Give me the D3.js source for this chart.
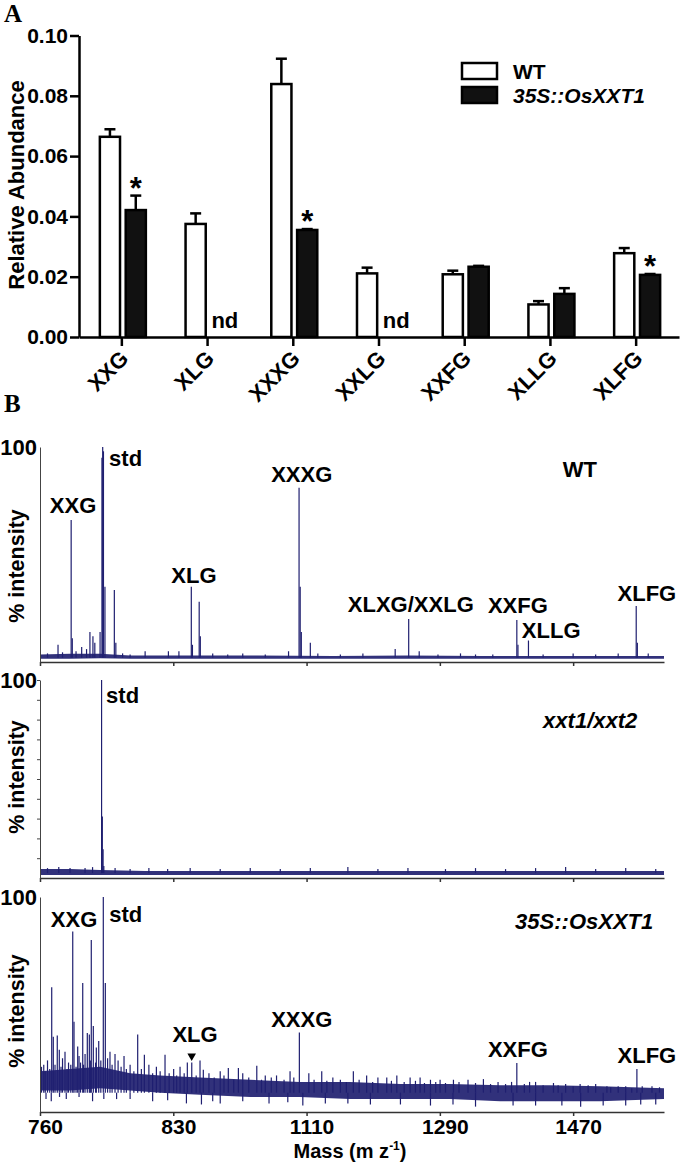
<!DOCTYPE html>
<html>
<head>
<meta charset="utf-8">
<script src="https://cdn.jsdelivr.net/npm/d3@7"></script>
<style>
  body { margin: 0; background: #fff; }
  svg { display: block; font-family: Arial, "Liberation Sans", Helvetica, sans-serif; }
</style>
</head>
<body>
<svg id="fig" width="680" height="1162"></svg>
<script>
// ---------- panel A: relative abundance of oligosaccharides
const categories = ["XXG", "XLG", "XXXG", "XXLG", "XXFG", "XLLG", "XLFG"];
const groups = ["WT", "35S::OsXXT1"];
const wtMean = [0.0664, 0.0375, 0.0839, 0.0211, 0.0208, 0.0108, 0.0278];
const wtErr = [0.0025, 0.0035, 0.0084, 0.0019, 0.0012, 0.0011, 0.0017];
const oeMean = [0.0421, null, 0.0355, null, 0.0233, 0.0143, 0.0206];
const oeErr = [0.0048, null, 0.0003, null, 0.0003, 0.0019, 0.0003];
const significant = [true, false, true, false, false, false, true];
const abundanceTicks = [0, 0.02, 0.04, 0.06, 0.08, 0.10];

// ---------- panel B: MALDI-TOF spectra  [mass, % intensity]
const massTicks = [760, 937.5, 1115, 1292.5, 1470];
const massTickLabels = ["760", "830", "1110", "1290", "1470"];

const wtBand = [[760, 1.5, 3.5], [800, 1.5, 3.8], [840, 1.8, 3.8], [880, 1.5, 3], [950, 1.5, 3],
  [1050, 1.5, 3], [1150, 1.5, 2.8], [1250, 1.5, 3], [1350, 1.5, 2.8], [1450, 1.5, 2.8], [1591, 1.5, 2.8]];
const wtPeaks = [[770, 4], [784, 8], [790, 4.5], [801.5, 66], [803, 11], [808, 5], [815.5, 7], [822, 6],
  [826.5, 14], [830.5, 12], [833, 9], [840, 14], [842.5, 95], [843.5, 100], [844.5, 98], [846.5, 35],
  [859, 33.5], [861, 9], [870, 4], [880, 3.5], [900, 5], [931, 5], [945, 5], [961.5, 35], [963, 8],
  [972, 28], [973.5, 12], [990, 4], [1010, 3.5], [1030, 4], [1060, 3.5], [1091, 5], [1105, 81],
  [1106.5, 35], [1108, 14], [1120, 9], [1130, 4], [1160, 3.5], [1190, 4], [1233, 6], [1251, 20],
  [1265, 5], [1290, 3.5], [1320, 4], [1340, 3.5], [1363, 3.5], [1395, 19.5], [1396.5, 8], [1410.5, 10],
  [1430, 3.5], [1470, 4], [1500, 3.5], [1530, 4], [1554, 26], [1555.5, 9], [1570, 4]];
const wtLabels = [["XXG", 804, 69.2, "middle"], ["std", 852, 91.2, "start"], ["XXXG", 1108.6, 83.9, "middle"],
  ["XLG", 965, 36.7, "middle"], ["XLXG/XXLG", 1253.8, 23.4, "middle"], ["XXFG", 1396.4, 22.7, "middle"],
  ["XLLG", 1401.7, 11.3, "start"], ["XLFG", 1568.2, 28.4, "middle"], ["WT", 1456, 86.2, "start"]];

const koBand = [[760, 1.5, 4.5], [800, 1.5, 4.5], [840, 1.5, 4], [900, 1.5, 3.5], [1000, 1.5, 3.5],
  [1100, 1.5, 3.5], [1200, 1.5, 3.5], [1300, 1.5, 3.5], [1400, 1.5, 3.5], [1500, 1.5, 3.5], [1591, 1.5, 3.5]];
const koPeaks = [[770, 5], [785, 5.5], [800, 5], [820, 5], [830, 5.5], [842, 100], [843, 31], [844, 14.5],
  [845, 6], [860, 5], [880, 4.5], [905, 5], [930, 4.5], [960, 5], [1000, 4.5], [1040, 5], [1080, 4.5],
  [1120, 5], [1170, 5.5], [1210, 4.5], [1250, 5], [1300, 4.5], [1340, 5], [1380, 4.5], [1420, 5],
  [1460, 5.5], [1500, 4.5], [1540, 5], [1580, 4.5]];
const koLabels = [["std", 848, 88.2, "start"], ["xxt1/xxt2", 1430, 75.8, "start", true]];

const oeBand = [[760, 10, 19], [800, 10, 20], [840, 11, 21], [880, 10, 18], [920, 9, 17], [973, 8, 16],
  [1040, 7, 15], [1106, 7, 14], [1173, 6, 14], [1240, 6, 13], [1306, 6, 13], [1373, 5, 12.5],
  [1439, 5, 12.5], [1506, 5, 12], [1591, 6, 11]];
const oePeaks = [[765, 22], [770, 24], [775.6, 58], [777.7, 35], [783, 35.6], [785.7, 29], [790, 25],
  [793.3, 28], [798, 23], [803.6, 84], [805.3, 42], [810.2, 30.5], [812, 26], [816.9, 60], [820, 27],
  [823, 36.7], [825.7, 36], [828.3, 80], [831, 40], [835, 30], [838.2, 33], [844.3, 100], [847, 60],
  [850, 25], [853.2, 28], [859.9, 27], [864, 24], [871.9, 26], [880, 22], [890.1, 36], [899, 26.6],
  [905, 22], [915, 21], [926.5, 26.6], [938, 20], [946.5, 21], [956.2, 23], [962.1, 23], [973.1, 24],
  [977.5, 19.7], [985, 18], [1000, 19], [1010.8, 20.5], [1024.2, 20.5], [1030, 18], [1048.7, 21.5],
  [1060, 17], [1075, 17], [1093, 19], [1105.4, 37], [1118, 18], [1135.2, 19], [1150, 16], [1177.3, 19],
  [1195, 17], [1210, 16], [1221.8, 16], [1235.2, 17], [1252.9, 16], [1266.2, 16], [1280, 15],
  [1292.8, 15], [1310.6, 15], [1330, 15], [1350.5, 15.3], [1370, 14], [1395, 22.8], [1420, 14],
  [1443.8, 13.5], [1460, 13], [1479.3, 13], [1500, 13], [1530, 12], [1554.9, 20], [1575, 12],
  [762, 21], [767, 19], [773, 20], [780, 22], [788, 21], [796, 20], [801, 22], [808, 21], [814, 23],
  [818, 22], [827, 24], [834, 23], [841, 24], [856, 22], [868, 21], [875, 20], [885, 19], [895, 20],
  [910, 18], [920, 19], [932, 18], [942, 17], [952, 18], [968, 17], [992, 16], [1005, 17], [1018, 15],
  [1038, 16], [1055, 15], [1068, 16], [1085, 15], [1098, 16], [1125, 15], [1142, 14.5], [1160, 15],
  [1168, 14], [1185, 15], [1203, 14], [1228, 14.5], [1245, 14], [1260, 14.5], [1272, 13.5], [1287, 14],
  [1300, 13.5], [1318, 14], [1340, 13.5], [1360, 13], [1380, 13], [1388, 14], [1405, 13], [1412, 14],
  [1430, 12.5], [1450, 12.5], [1470, 12], [1490, 12.5], [1515, 12], [1520, 11.5], [1540, 12],
  [1548, 11], [1562, 12], [1585, 11.5],
  [775, 5], [795, 6], [830, 5], [862, 6], [910, 5], [955, 4], [975, 3.5], [1000, 4], [1065, 4],
  [1110, 3], [1200, 3.5], [1280, 3], [1340, 2.5], [1420, 3], [1480, 2.5], [1540, 3], [1580, 3.5],
  [768, 6], [786, 7], [812, 7], [845, 6], [880, 6], [930, 5.5], [990, 5], [1030, 5], [1090, 4.5],
  [1140, 4], [1170, 4], [1240, 3.5], [1310, 3.5], [1390, 3], [1455, 3], [1510, 3], [1560, 3.5]];
const oeLabels = [["XXG", 805.3, 85.9, "middle"], ["std", 852.3, 88.5, "start"], ["XLG", 966.5, 32.7, "middle"],
  ["XXXG", 1108.6, 39.7, "middle"], ["XXFG", 1396.4, 25.4, "middle"], ["XLFG", 1568.2, 22.7, "middle"],
  ["35S::OsXXT1", 1392.7, 85.1, "start", true]];
const oeArrow = [[962, 26]];

const svg = d3.select("#fig");
const ink = "#000";
const navy = "#1f1f70";

// ================= Panel A =================
svg.append("text").attr("x", 4).attr("y", 22)
  .style("font-family", "'Liberation Serif', 'Times New Roman', serif")
  .style("font-weight", "bold").style("font-size", "25px").text("A");

const xA = d3.scaleBand().domain(categories).range([79, 679]).padding(0);
const xSub = d3.scaleBand().domain(groups).range([-22, 24]).paddingInner(0.22);
const yA = d3.scaleLinear().domain([0, 0.10]).range([337, 35.5]);

const rows = categories.map((c, i) => ({
  cat: c,
  values: [
    { g: groups[0], mean: wtMean[i], err: wtErr[i], star: false },
    { g: groups[1], mean: oeMean[i], err: oeErr[i], star: significant[i] }
  ]
}));

const groupG = svg.selectAll(".cat").data(rows).join("g")
  .attr("class", "cat")
  .attr("transform", (d) => `translate(${xA(d.cat) + xA.bandwidth() / 2},0)`);

const bar = groupG.selectAll(".bar").data((d) => d.values).join("g").attr("class", "bar");

bar.filter((d) => d.mean !== null).append("line")
  .attr("x1", (d) => xSub(d.g) + xSub.bandwidth() / 2)
  .attr("x2", (d) => xSub(d.g) + xSub.bandwidth() / 2)
  .attr("y1", (d) => yA(d.mean)).attr("y2", (d) => yA(d.mean + d.err))
  .attr("stroke", ink).attr("stroke-width", 2.5);

bar.filter((d) => d.mean !== null).append("line")
  .attr("x1", (d) => xSub(d.g) + xSub.bandwidth() / 2 - 5.5)
  .attr("x2", (d) => xSub(d.g) + xSub.bandwidth() / 2 + 5.5)
  .attr("y1", (d) => yA(d.mean + d.err)).attr("y2", (d) => yA(d.mean + d.err))
  .attr("stroke", ink).attr("stroke-width", 2.5);

bar.filter((d) => d.mean !== null).append("rect")
  .attr("x", (d) => xSub(d.g))
  .attr("width", xSub.bandwidth())
  .attr("y", (d) => yA(d.mean))
  .attr("height", (d) => yA(0) - yA(d.mean))
  .attr("fill", (d) => d.g === groups[0] ? "#fff" : "#111")
  .attr("stroke", ink).attr("stroke-width", 2.5);

bar.filter((d) => d.mean === null).append("text")
  .attr("x", (d) => xSub(d.g))
  .attr("y", yA(0) - 9)
  .style("font-weight", "bold").style("font-size", "22px")
  .text("nd");

bar.filter((d) => d.star).append("text")
  .attr("x", (d) => xSub(d.g) + xSub.bandwidth() / 2)
  .attr("y", (d) => yA(d.mean + d.err) + 3)
  .attr("text-anchor", "middle")
  .style("font-weight", "bold").style("font-size", "31px")
  .text("*");

const yAxisA = svg.append("g").attr("transform", "translate(79,0)")
  .call(d3.axisLeft(yA).tickValues(abundanceTicks).tickFormat(d3.format(".2f"))
    .tickSize(9).tickSizeOuter(0).tickPadding(2));
yAxisA.attr("font-family", null).attr("font-size", null);
yAxisA.selectAll("path, line").attr("stroke", ink).attr("stroke-width", 2.5);
yAxisA.selectAll("text").attr("fill", ink).style("font-weight", "bold").style("font-size", "21px");

const xAxisA = svg.append("g").attr("transform", `translate(0,${yA(0)})`)
  .call(d3.axisBottom(xA).tickSize(9).tickSizeOuter(0));
xAxisA.attr("font-family", null).attr("font-size", null);
xAxisA.selectAll("path, line").attr("stroke", ink).attr("stroke-width", 2.5);
xAxisA.selectAll("text")
  .attr("x", 0).attr("y", 0).attr("dy", 0)
  .attr("transform", "translate(8,23) rotate(-45)")
  .attr("text-anchor", "end").attr("fill", ink)
  .style("font-weight", "bold").style("font-size", "22px");

svg.append("text")
  .attr("transform", "translate(24,185) rotate(-90)")
  .attr("text-anchor", "middle")
  .style("font-weight", "bold").style("font-size", "22px")
  .text("Relative Abundance");

// legend
const legend = svg.append("g").attr("transform", "translate(462,63)");
legend.selectAll("rect").data(groups).join("rect")
  .attr("x", 0).attr("y", (d, i) => i * 24)
  .attr("width", 35).attr("height", 16)
  .attr("fill", (d, i) => i === 0 ? "#fff" : "#111")
  .attr("stroke", ink).attr("stroke-width", 2.5);
legend.selectAll("text").data(groups).join("text")
  .attr("x", 51).attr("y", (d, i) => 16 + i * 24)
  .style("font-weight", "bold").style("font-size", "21px")
  .style("font-style", (d, i) => i === 1 ? "italic" : "normal")
  .text((d) => d);

// ================= Panel B =================
svg.append("text").attr("x", 4).attr("y", 412)
  .style("font-family", "'Liberation Serif', 'Times New Roman', serif")
  .style("font-weight", "bold").style("font-size", "25px").text("B");

const xB = d3.scaleLinear().domain([760, 1591]).range([40, 664]);

const panels = [
  { top: 447, bottom: 662, band: wtBand, peaks: wtPeaks, base: 2, labels: wtLabels, arrows: [], yLabelY: 566, tickLabels: false, minor: false },
  { top: 680, bottom: 878, band: koBand, peaks: koPeaks, base: 2.5, labels: koLabels, arrows: [], yLabelY: 777, tickLabels: false, minor: true },
  { top: 897, bottom: 1112, band: oeBand, peaks: oePeaks, base: 9, labels: oeLabels, arrows: oeArrow, yLabelY: 1011, tickLabels: true, minor: false }
];

panels.forEach((p) => {
  const y = d3.scaleLinear().domain([0, 100]).range([p.bottom, p.top]);
  const g = svg.append("g");

  // baseline noise band
  g.append("path").datum(p.band)
    .attr("d", d3.area().x((d) => xB(d[0])).y0((d) => y(d[1])).y1((d) => y(d[2])))
    .attr("fill", navy).attr("fill-opacity", 0.92);

  // peaks
  g.selectAll(".peak").data(p.peaks).join("line")
    .attr("class", "peak")
    .attr("x1", (d) => xB(d[0])).attr("x2", (d) => xB(d[0]))
    .attr("y1", y(p.base)).attr("y2", (d) => y(d[1]))
    .attr("stroke", navy).attr("stroke-width", 1.2);

  // x axis
  const xAxis = g.append("g").attr("transform", `translate(0,${p.bottom})`)
    .call(d3.axisBottom(xB).tickValues(massTicks).tickSize(4).tickSizeOuter(0)
      .tickFormat((d, i) => p.tickLabels ? massTickLabels[i] : ""));
  xAxis.attr("font-family", null).attr("font-size", null);
  xAxis.selectAll("path, line").attr("stroke", "#333").attr("stroke-width", 1.5);
  xAxis.selectAll("text").attr("fill", ink).attr("dx", 5).attr("dy", 0).attr("y", 22)
    .style("font-weight", "bold").style("font-size", "21px");

  // y axis
  const yAxis = g.append("g").attr("transform", "translate(40,0)")
    .call(d3.axisLeft(y).tickValues(p.minor ? d3.range(10, 101, 10) : []).tickSize(3).tickSizeOuter(0).tickFormat(""));
  yAxis.selectAll("path, line").attr("stroke", "#444").attr("stroke-width", 1);

  g.append("text").attr("x", 37).attr("y", y(100) + 8)
    .attr("text-anchor", "end")
    .style("font-weight", "bold").style("font-size", "22px").text("100");

  g.append("text")
    .attr("transform", `translate(24,${p.yLabelY}) rotate(-90)`)
    .attr("text-anchor", "middle")
    .style("font-weight", "bold").style("font-size", "21.5px")
    .text("% intensity");

  g.selectAll(".plabel").data(p.labels).join("text")
    .attr("class", "plabel")
    .attr("x", (d) => xB(d[1])).attr("y", (d) => y(d[2]))
    .attr("text-anchor", (d) => d[3])
    .style("font-weight", "bold").style("font-size", "22px")
    .style("font-style", (d) => d[4] ? "italic" : "normal")
    .text((d) => d[0]);

  g.selectAll(".arrow").data(p.arrows).join("path")
    .attr("class", "arrow")
    .attr("d", d3.symbol().type(d3.symbolTriangle).size(32))
    .attr("transform", (d) => `translate(${xB(d[0])},${y(d[1])}) rotate(180)`)
    .attr("fill", ink);
});

const massLabel = svg.append("text").attr("x", 350).attr("y", 1158)
  .attr("text-anchor", "middle")
  .style("font-weight", "bold").style("font-size", "20px");
massLabel.append("tspan").text("Mass (m z");
massLabel.append("tspan").attr("dy", -8).style("font-size", "12px").text("-1");
massLabel.append("tspan").attr("dy", 8).text(")");
</script>
</body>
</html>
